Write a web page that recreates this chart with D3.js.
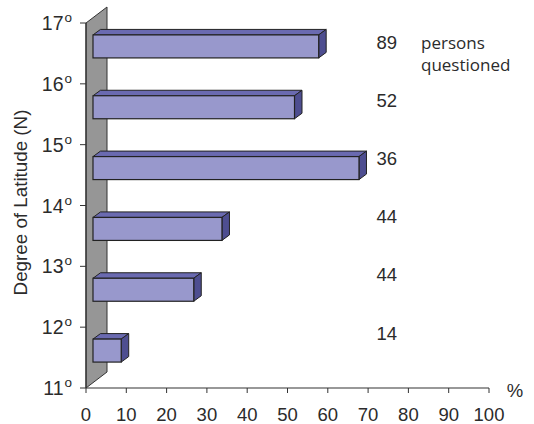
<!DOCTYPE html>
<html>
<head>
<meta charset="utf-8">
<script src="https://cdn.jsdelivr.net/npm/d3@7"></script>
<style>
  html, body { margin: 0; padding: 0; background: #fff; }
  svg { display: block; }
</style>
</head>
<body>
<svg id="chart" width="534" height="424"></svg>
<script>
// Latitude bands (lower bound, degrees N) and share of respondents (%)
const latitudes = [16, 15, 14, 13, 12, 11];
const percents  = [56, 50, 66, 32, 25, 7];
// Number of persons questioned in each band
const persons   = [89, 52, 36, 44, 44, 14];
// Axis tick values
const latTicks  = [11, 12, 13, 14, 15, 16, 17];
const pctTicks  = [0, 10, 20, 30, 40, 50, 60, 70, 80, 90, 100];

const svg = d3.select("#chart");
const ink = "#2b2b2b";
const sans = "Liberation Sans, Arial, sans-serif";

const x = d3.scaleLinear().domain([0, 100]).range([86, 489]);
const y = d3.scaleLinear().domain([11, 17]).range([388, 23]);

// depth of the back wall and of each bar (pseudo-3D offsets)
const wall = { dx: 21, dy: -16 };
const front = { dx: 7 };          // bars stand a third of the way into the wall depth
const depth = { dx: 7.5, dy: -5.5 };
const barH = 23;

// grey back wall
const y0 = y(11), y1 = y(17), x0 = x(0);
svg.append("path")
  .attr("d", `M${x0},${y1} L${x0 + wall.dx},${y1 + wall.dy} L${x0 + wall.dx},${y0 + wall.dy} L${x0},${y0} Z`)
  .attr("fill", "#969696")
  .attr("stroke", "#333")
  .attr("stroke-width", 1);

// bars
const bars = svg.append("g").selectAll("g")
  .data(latitudes.map((lat, i) => ({ lat, v: percents[i] })))
  .join("g");

bars.each(function (d) {
  const g = d3.select(this);
  const left = x(0) + front.dx;
  const right = x(d.v) + front.dx;
  const top = y(d.lat + 0.5) - 7 - barH / 2;
  const bot = top + barH;
  // top face
  g.append("path")
    .attr("d", `M${left},${top} L${left + depth.dx},${top + depth.dy} L${right + depth.dx},${top + depth.dy} L${right},${top} Z`)
    .attr("fill", "#6a6ab0").attr("stroke", "#222").attr("stroke-width", 1).attr("stroke-linejoin", "round");
  // end face
  g.append("path")
    .attr("d", `M${right},${top} L${right + depth.dx},${top + depth.dy} L${right + depth.dx},${bot + depth.dy} L${right},${bot} Z`)
    .attr("fill", "#4e4e90").attr("stroke", "#222").attr("stroke-width", 1).attr("stroke-linejoin", "round");
  // front face
  g.append("rect")
    .attr("x", left).attr("y", top).attr("width", right - left).attr("height", barH)
    .attr("fill", "#9898cc").attr("stroke", "#222").attr("stroke-width", 1.2);
});

// latitude axis
const yAxis = svg.append("g");
yAxis.append("line")
  .attr("x1", x0).attr("x2", x0).attr("y1", y1).attr("y2", y0)
  .attr("stroke", "#333").attr("stroke-width", 1.2);
yAxis.selectAll("line.tick").data(latTicks).join("line")
  .attr("class", "tick")
  .attr("x1", x0 - 6).attr("x2", x0)
  .attr("y1", d => y(d)).attr("y2", d => y(d))
  .attr("stroke", "#333").attr("stroke-width", 1);
const yLab = yAxis.selectAll("text").data(latTicks).join("text")
  .attr("x", 72).attr("y", d => y(d) + 7)
  .attr("text-anchor", "end")
  .attr("font-family", sans)
  .attr("font-size", 19.5).attr("fill", ink);
yLab.append("tspan").text(d => d);
yLab.append("tspan").attr("font-size", 13.5).attr("dx", 1).attr("dy", -8).text("o");

svg.append("text")
  .attr("transform", `translate(27,${(y0 + y1) / 2 - 3}) rotate(-90)`)
  .attr("text-anchor", "middle")
  .attr("font-family", sans)
  .attr("font-size", 18.8).attr("fill", ink)
  .text("Degree of Latitude (N)");

// percentage axis
const xAxis = svg.append("g");
xAxis.append("line")
  .attr("x1", x(0)).attr("x2", x(100)).attr("y1", y0).attr("y2", y0)
  .attr("stroke", "#333").attr("stroke-width", 1.2);
xAxis.selectAll("line.tick").data(pctTicks).join("line")
  .attr("class", "tick")
  .attr("x1", d => x(d)).attr("x2", d => x(d))
  .attr("y1", y0).attr("y2", y0 + 5)
  .attr("stroke", "#333").attr("stroke-width", 1);
xAxis.selectAll("text").data(pctTicks).join("text")
  .attr("x", d => x(d)).attr("y", 421)
  .attr("text-anchor", "middle")
  .attr("font-family", sans)
  .attr("font-size", 18.5).attr("fill", ink)
  .text(d => d);
svg.append("text")
  .attr("x", 515).attr("y", 397)
  .attr("text-anchor", "middle")
  .attr("font-family", sans)
  .attr("font-size", 18.5).attr("fill", ink)
  .text("%");

// number of persons questioned per band
const rowY = d3.scalePoint().domain(latitudes).range([48.5, 339.5]);
svg.append("g").selectAll("text").data(latitudes).join("text")
  .attr("x", 397).attr("y", d => rowY(d))
  .attr("text-anchor", "end")
  .attr("font-family", sans)
  .attr("font-size", 18.5).attr("fill", ink)
  .text((d, i) => persons[i]);

const note = svg.append("text")
  .attr("x", 421).attr("y", 48.5)
  .attr("font-family", "Open Sans, Noto Sans, sans-serif")
  .attr("font-size", 17).attr("fill", ink);
note.append("tspan").attr("x", 421).text("persons");
note.append("tspan").attr("x", 421).attr("dy", 22).text("questioned");
</script>
</body>
</html>
